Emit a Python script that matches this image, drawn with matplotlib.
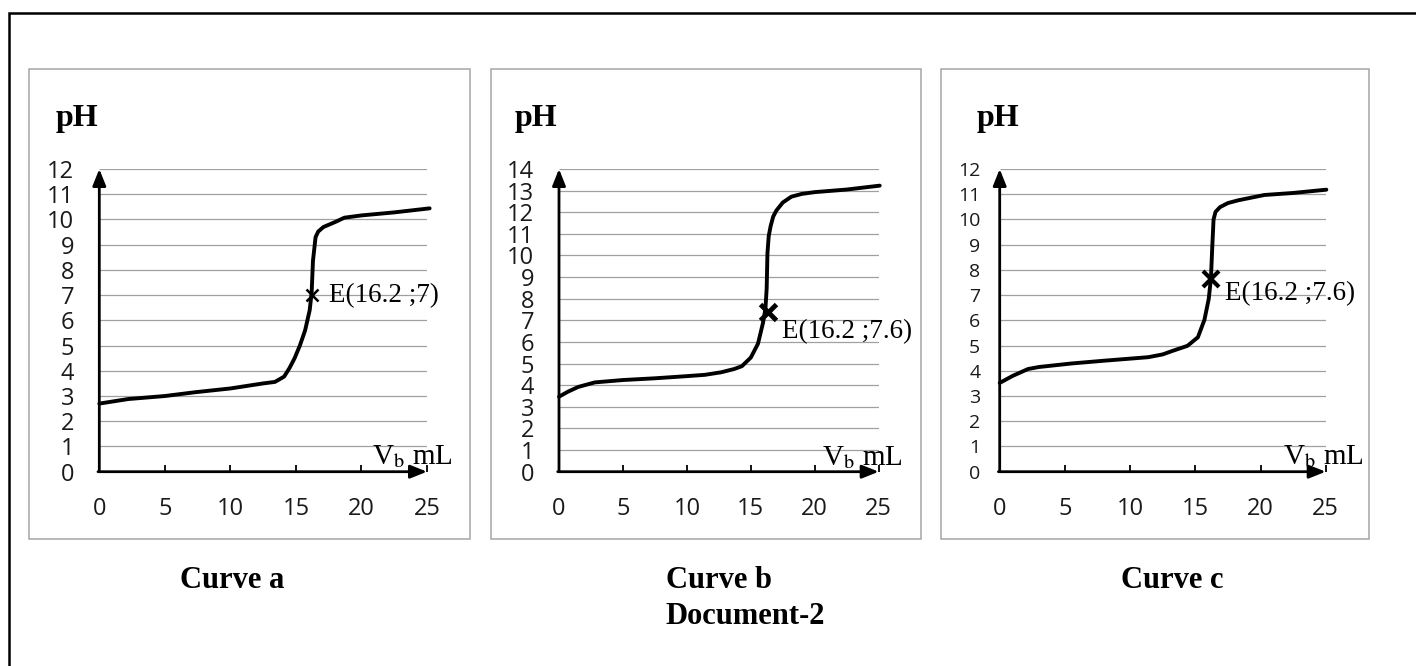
import matplotlib
matplotlib.use("Agg")
import matplotlib.pyplot as plt
from matplotlib.patches import Rectangle

plt.rcParams['mathtext.fontset'] = 'stix'

# curve a
xa = [0, 2.2, 5, 7.3, 10, 12.5, 13.4, 14.1, 14.5, 14.9, 15.3, 15.7, 16.05, 16.2, 16.3, 16.5, 16.7, 17.1, 18, 18.7, 20, 22.5, 25.2]
ya = [2.7, 2.88, 3.0, 3.15, 3.3, 3.5, 3.56, 3.77, 4.1, 4.5, 5.0, 5.6, 6.4, 7.1, 8.36, 9.3, 9.52, 9.7, 9.9, 10.07, 10.16, 10.28, 10.44]

# curve b
xb = [0, 0.7, 1.5, 2.8, 5, 7.5, 10, 11.4, 12.7, 13.7, 14.3, 15.0, 15.56, 15.95, 16.14, 16.24, 16.3, 16.4, 16.55, 16.75, 17.0, 17.5, 18.17, 19, 20, 22.5, 25.08]
yb = [3.47, 3.7, 3.92, 4.13, 4.24, 4.32, 4.42, 4.48, 4.6, 4.75, 4.88, 5.28, 5.92, 6.88, 7.52, 8.48, 10.1, 10.9, 11.36, 11.8, 12.08, 12.45, 12.72, 12.85, 12.93, 13.05, 13.23]

# curve c
xc = [0, 1, 2.17, 3, 5.5, 8, 11.4, 12.5, 13.2, 14.4, 15.2, 15.7, 16.03, 16.2, 16.3, 16.4, 16.55, 16.9, 17.5, 18.3, 20.3, 22.5, 25.05]
yc = [3.52, 3.8, 4.07, 4.15, 4.29, 4.4, 4.54, 4.65, 4.78, 4.99, 5.33, 6.02, 6.85, 7.67, 8.9, 10.0, 10.3, 10.49, 10.65, 10.76, 10.97, 11.05, 11.18]

# equivalence points (as drawn) and labels
eq_pts = [(16.2, 7.0), (16.35, 7.4), (16.2, 7.65)]
eq_labels = ['E(16.2 ;7)', 'E(16.2 ;7.6)', 'E(16.2 ;7.6)']
ymax = [12, 14, 12]
titles = ['Curve a', 'Curve b', 'Curve c']
xticks = [0, 5, 10, 15, 20, 25]

W, H = 1416, 666
fig = plt.figure(figsize=(W / 100, H / 100), dpi=100)

def fx(px):
    return px / W

def fy(py):
    return 1 - py / H

# outer frame (only top/left edges fall inside the page)
fig.patches.append(Rectangle((fx(9), fy(680)), fx(1440), fy(13) - fy(680), transform=fig.transFigure,
                             fill=False, edgecolor='black', lw=1.8))

boxes = [(29, 470), (491, 921), (941, 1369)]
for l, r in boxes:
    fig.patches.append(Rectangle((fx(l), fy(539)), fx(r) - fx(l), fy(69) - fy(539), transform=fig.transFigure,
                                 fill=False, edgecolor='#a6a6a6', lw=1.1))

axes_px = [(99.3, 427), (559, 878.7), (999.7, 1325.7)]
y0_px, ytop_px = 471.7, 169

curves = [(xa, ya), (xb, yb), (xc, yc)]
label_gap = [18, 18, 14]
ylab_size = [17, 17, 14]
ph_x = [77, 536, 998]
title_x = [232, 719, 1172]
eq_text_pos = [(17.55, 7.0), (17.4, 6.5), (17.25, 7.05)]
vb_x = [20.8, 20.6, 21.7]
marker_style = [dict(ms=8, mew=1.8), dict(ms=12, mew=3.5), dict(ms=11, mew=3)]

for i in range(3):
    x0, x25 = axes_px[i]
    ax = fig.add_axes([fx(x0), fy(y0_px), fx(x25) - fx(x0), fy(ytop_px) - fy(y0_px)])
    ax.set_xlim(0, 25)
    ax.set_ylim(0, ymax[i])
    for s in ax.spines.values():
        s.set_visible(False)
    ax.patch.set_alpha(0)

    ax.hlines(range(1, ymax[i] + 1), 0, 25, color='#a0a0a0', lw=0.9, zorder=1)

    # axes arrows
    arr = dict(arrowstyle='-|>,head_length=0.5,head_width=0.2', color='black', lw=2,
               shrinkA=0, shrinkB=0, mutation_scale=20)
    ax.annotate('', xy=(0, ymax[i]), xytext=(0, 0), arrowprops=arr, annotation_clip=False)
    ax.annotate('', xy=(25, 0), xytext=(-0.1, 0), arrowprops=arr, annotation_clip=False)

    ax.set_xticks(xticks)
    ax.set_yticks(range(0, ymax[i] + 1))
    ax.tick_params(axis='x', direction='in', length=5, width=1.3, color='black', pad=18,
                   labelsize=17, labelcolor='#1a1a1a')
    ax.tick_params(axis='y', length=0, pad=label_gap[i], labelsize=ylab_size[i], labelcolor='#1a1a1a')
    for lab in ax.get_xticklabels() + ax.get_yticklabels():
        lab.set_fontfamily('Open Sans')

    cx, cy = curves[i]
    ax.plot(cx, cy, color='black', lw=2.8, solid_joinstyle='round', solid_capstyle='round',
            clip_on=False, zorder=3)

    ex, ey = eq_pts[i]
    ax.plot([ex], [ey], marker='x', color='black', linestyle='none', clip_on=False, zorder=4,
            **marker_style[i])
    tx, ty = eq_text_pos[i]
    ax.text(tx, ty, eq_labels[i], fontsize=19.5, family='Liberation Serif', va='center', ha='left')

    ax.text(vb_x[i], 0.3, r'V$_\mathrm{b}$ mL', fontsize=21, family='Liberation Serif',
            va='baseline', ha='left')

    fig.text(fx(ph_x[i]), fy(126), 'pH', fontsize=23, family='Liberation Serif', weight='bold',
             ha='center', va='baseline')
    fig.text(fx(title_x[i]), fy(580), titles[i], fontsize=22, family='Liberation Serif',
             weight='bold', ha='center', va='center')

fig.text(fx(745), fy(616), 'Document-2', fontsize=22, family='Liberation Serif', weight='bold',
         ha='center', va='center')

fig.savefig('out.png', dpi=100)
